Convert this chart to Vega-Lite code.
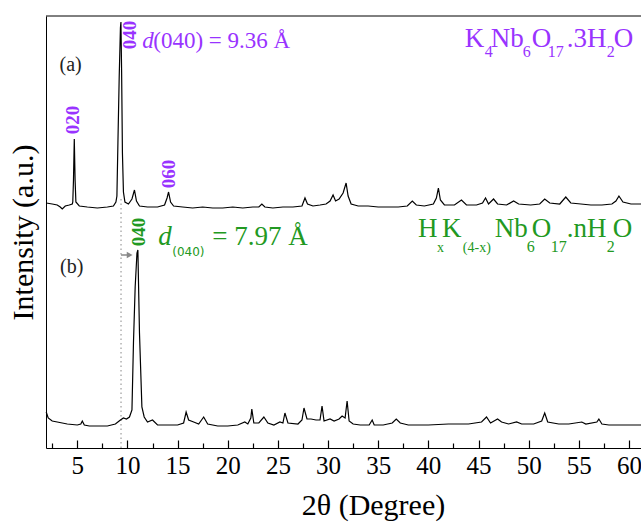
{
  "$schema": "https://vega.github.io/schema/vega-lite/v6.json",
  "width": 595,
  "height": 432,
  "autosize": {"type": "none"},
  "padding": {"left": 46, "top": 16, "right": 0, "bottom": 75},
  "background": "white",
  "config": {"view": {"stroke": null}, "font": "Liberation Serif", "text": {"font": "Liberation Serif"}},
  "datasets": {
    "xrd": [
      {"t": 1.9, "i": 245, "s": "a"}, {"t": 2.5, "i": 244, "s": "a"}, {"t": 3.0, "i": 243, "s": "a"}, {"t": 3.3, "i": 241, "s": "a"}, {"t": 3.5, "i": 239, "s": "a"}, {"t": 3.8, "i": 242, "s": "a"}, {"t": 4.2, "i": 243, "s": "a"}, {"t": 4.5, "i": 244, "s": "a"}, {"t": 4.55, "i": 246, "s": "a"}, {"t": 4.62, "i": 268, "s": "a"}, {"t": 4.7, "i": 309, "s": "a"}, {"t": 4.78, "i": 268, "s": "a"}, {"t": 4.86, "i": 246, "s": "a"}, {"t": 5.2, "i": 242, "s": "a"}, {"t": 6.0, "i": 241, "s": "a"}, {"t": 7.0, "i": 240, "s": "a"}, {"t": 8.0, "i": 241, "s": "a"}, {"t": 8.6, "i": 242, "s": "a"}, {"t": 8.85, "i": 246, "s": "a"}, {"t": 8.95, "i": 252, "s": "a"}, {"t": 9.05, "i": 305, "s": "a"}, {"t": 9.18, "i": 372, "s": "a"}, {"t": 9.3, "i": 420, "s": "a"}, {"t": 9.35, "i": 426, "s": "a"}, {"t": 9.42, "i": 375, "s": "a"}, {"t": 9.5, "i": 295, "s": "a"}, {"t": 9.6, "i": 256, "s": "a"}, {"t": 9.75, "i": 246, "s": "a"}, {"t": 10.1, "i": 244, "s": "a"}, {"t": 10.45, "i": 249, "s": "a"}, {"t": 10.7, "i": 258, "s": "a"}, {"t": 10.9, "i": 247, "s": "a"}, {"t": 11.2, "i": 242, "s": "a"}, {"t": 12.0, "i": 241, "s": "a"}, {"t": 13.0, "i": 241, "s": "a"}, {"t": 13.7, "i": 243, "s": "a"}, {"t": 13.95, "i": 250, "s": "a"}, {"t": 14.1, "i": 256, "s": "a"}, {"t": 14.3, "i": 246, "s": "a"}, {"t": 14.6, "i": 242, "s": "a"}, {"t": 15.5, "i": 241, "s": "a"}, {"t": 16.5, "i": 240, "s": "a"}, {"t": 17.5, "i": 241, "s": "a"}, {"t": 18.5, "i": 240, "s": "a"}, {"t": 19.5, "i": 240, "s": "a"}, {"t": 20.5, "i": 241, "s": "a"}, {"t": 21.5, "i": 240, "s": "a"}, {"t": 22.5, "i": 241, "s": "a"}, {"t": 23.1, "i": 241, "s": "a"}, {"t": 23.4, "i": 244, "s": "a"}, {"t": 23.7, "i": 241, "s": "a"}, {"t": 24.5, "i": 240, "s": "a"}, {"t": 25.5, "i": 241, "s": "a"}, {"t": 26.5, "i": 241, "s": "a"}, {"t": 27.4, "i": 242, "s": "a"}, {"t": 27.7, "i": 250, "s": "a"}, {"t": 27.95, "i": 244, "s": "a"}, {"t": 28.5, "i": 242, "s": "a"}, {"t": 29.2, "i": 243, "s": "a"}, {"t": 29.8, "i": 244, "s": "a"}, {"t": 30.2, "i": 247, "s": "a"}, {"t": 30.5, "i": 253, "s": "a"}, {"t": 30.75, "i": 247, "s": "a"}, {"t": 31.1, "i": 249, "s": "a"}, {"t": 31.5, "i": 255, "s": "a"}, {"t": 31.8, "i": 265, "s": "a"}, {"t": 32.0, "i": 252, "s": "a"}, {"t": 32.3, "i": 244, "s": "a"}, {"t": 33.0, "i": 242, "s": "a"}, {"t": 34.0, "i": 242, "s": "a"}, {"t": 35.0, "i": 241, "s": "a"}, {"t": 36.0, "i": 241, "s": "a"}, {"t": 37.0, "i": 241, "s": "a"}, {"t": 37.9, "i": 242, "s": "a"}, {"t": 38.4, "i": 247, "s": "a"}, {"t": 38.8, "i": 243, "s": "a"}, {"t": 39.6, "i": 242, "s": "a"}, {"t": 40.5, "i": 244, "s": "a"}, {"t": 40.8, "i": 250, "s": "a"}, {"t": 41.0, "i": 260, "s": "a"}, {"t": 41.2, "i": 248, "s": "a"}, {"t": 41.6, "i": 243, "s": "a"}, {"t": 42.6, "i": 243, "s": "a"}, {"t": 43.3, "i": 248, "s": "a"}, {"t": 43.8, "i": 243, "s": "a"}, {"t": 44.8, "i": 243, "s": "a"}, {"t": 45.4, "i": 245, "s": "a"}, {"t": 45.7, "i": 250, "s": "a"}, {"t": 46.0, "i": 244, "s": "a"}, {"t": 46.5, "i": 249, "s": "a"}, {"t": 46.9, "i": 244, "s": "a"}, {"t": 47.8, "i": 243, "s": "a"}, {"t": 48.5, "i": 247, "s": "a"}, {"t": 49.0, "i": 244, "s": "a"}, {"t": 50.2, "i": 243, "s": "a"}, {"t": 51.1, "i": 244, "s": "a"}, {"t": 51.6, "i": 249, "s": "a"}, {"t": 52.1, "i": 245, "s": "a"}, {"t": 53.1, "i": 244, "s": "a"}, {"t": 53.7, "i": 251, "s": "a"}, {"t": 54.2, "i": 245, "s": "a"}, {"t": 55.2, "i": 244, "s": "a"}, {"t": 56.2, "i": 243, "s": "a"}, {"t": 57.3, "i": 243, "s": "a"}, {"t": 58.3, "i": 244, "s": "a"}, {"t": 58.7, "i": 247, "s": "a"}, {"t": 59.0, "i": 252, "s": "a"}, {"t": 59.4, "i": 246, "s": "a"}, {"t": 60.2, "i": 244, "s": "a"}, {"t": 61.2, "i": 244, "s": "a"},
      {"t": 1.9, "i": 36, "s": "b"}, {"t": 2.1, "i": 30, "s": "b"}, {"t": 2.5, "i": 27, "s": "b"}, {"t": 3.0, "i": 26, "s": "b"}, {"t": 3.5, "i": 25, "s": "b"}, {"t": 4.0, "i": 24, "s": "b"}, {"t": 5.0, "i": 23, "s": "b"}, {"t": 5.35, "i": 24, "s": "b"}, {"t": 5.5, "i": 27, "s": "b"}, {"t": 5.7, "i": 23, "s": "b"}, {"t": 6.2, "i": 22, "s": "b"}, {"t": 7.0, "i": 22, "s": "b"}, {"t": 8.0, "i": 22, "s": "b"}, {"t": 8.8, "i": 24, "s": "b"}, {"t": 9.3, "i": 28, "s": "b"}, {"t": 9.6, "i": 30, "s": "b"}, {"t": 9.9, "i": 29, "s": "b"}, {"t": 10.2, "i": 31, "s": "b"}, {"t": 10.45, "i": 38, "s": "b"}, {"t": 10.6, "i": 105, "s": "b"}, {"t": 10.77, "i": 161, "s": "b"}, {"t": 10.95, "i": 195, "s": "b"}, {"t": 11.04, "i": 198, "s": "b"}, {"t": 11.2, "i": 115, "s": "b"}, {"t": 11.44, "i": 41, "s": "b"}, {"t": 11.67, "i": 31, "s": "b"}, {"t": 12.0, "i": 26, "s": "b"}, {"t": 12.5, "i": 28, "s": "b"}, {"t": 13.0, "i": 23, "s": "b"}, {"t": 14.0, "i": 23, "s": "b"}, {"t": 15.0, "i": 23, "s": "b"}, {"t": 15.6, "i": 25, "s": "b"}, {"t": 15.85, "i": 36, "s": "b"}, {"t": 16.1, "i": 28, "s": "b"}, {"t": 16.6, "i": 26, "s": "b"}, {"t": 17.1, "i": 24, "s": "b"}, {"t": 17.6, "i": 31, "s": "b"}, {"t": 18.0, "i": 24, "s": "b"}, {"t": 19.0, "i": 22, "s": "b"}, {"t": 20.0, "i": 22, "s": "b"}, {"t": 21.0, "i": 23, "s": "b"}, {"t": 21.7, "i": 26, "s": "b"}, {"t": 22.0, "i": 24, "s": "b"}, {"t": 22.3, "i": 30, "s": "b"}, {"t": 22.4, "i": 39, "s": "b"}, {"t": 22.6, "i": 25, "s": "b"}, {"t": 23.1, "i": 25, "s": "b"}, {"t": 23.6, "i": 31, "s": "b"}, {"t": 24.0, "i": 25, "s": "b"}, {"t": 24.6, "i": 23, "s": "b"}, {"t": 25.2, "i": 26, "s": "b"}, {"t": 25.5, "i": 25, "s": "b"}, {"t": 25.7, "i": 35, "s": "b"}, {"t": 26.0, "i": 25, "s": "b"}, {"t": 27.0, "i": 24, "s": "b"}, {"t": 27.4, "i": 28, "s": "b"}, {"t": 27.6, "i": 40, "s": "b"}, {"t": 27.9, "i": 29, "s": "b"}, {"t": 28.3, "i": 29, "s": "b"}, {"t": 28.8, "i": 28, "s": "b"}, {"t": 29.2, "i": 28, "s": "b"}, {"t": 29.4, "i": 42, "s": "b"}, {"t": 29.6, "i": 27, "s": "b"}, {"t": 30.2, "i": 29, "s": "b"}, {"t": 30.6, "i": 27, "s": "b"}, {"t": 31.1, "i": 29, "s": "b"}, {"t": 31.4, "i": 32, "s": "b"}, {"t": 31.7, "i": 30, "s": "b"}, {"t": 31.9, "i": 47, "s": "b"}, {"t": 32.1, "i": 27, "s": "b"}, {"t": 32.5, "i": 24, "s": "b"}, {"t": 33.2, "i": 23, "s": "b"}, {"t": 34.1, "i": 23, "s": "b"}, {"t": 34.4, "i": 28, "s": "b"}, {"t": 34.6, "i": 23, "s": "b"}, {"t": 35.5, "i": 23, "s": "b"}, {"t": 36.4, "i": 25, "s": "b"}, {"t": 36.8, "i": 29, "s": "b"}, {"t": 37.2, "i": 25, "s": "b"}, {"t": 38.0, "i": 23, "s": "b"}, {"t": 40.0, "i": 23, "s": "b"}, {"t": 42.0, "i": 24, "s": "b"}, {"t": 44.0, "i": 24, "s": "b"}, {"t": 45.3, "i": 26, "s": "b"}, {"t": 45.8, "i": 31, "s": "b"}, {"t": 46.2, "i": 25, "s": "b"}, {"t": 46.9, "i": 29, "s": "b"}, {"t": 47.3, "i": 26, "s": "b"}, {"t": 48.0, "i": 24, "s": "b"}, {"t": 48.8, "i": 26, "s": "b"}, {"t": 49.3, "i": 24, "s": "b"}, {"t": 50.5, "i": 24, "s": "b"}, {"t": 51.3, "i": 27, "s": "b"}, {"t": 51.6, "i": 35, "s": "b"}, {"t": 51.9, "i": 26, "s": "b"}, {"t": 53.0, "i": 24, "s": "b"}, {"t": 54.0, "i": 24, "s": "b"}, {"t": 55.3, "i": 26, "s": "b"}, {"t": 55.7, "i": 24, "s": "b"}, {"t": 56.8, "i": 26, "s": "b"}, {"t": 57.0, "i": 29, "s": "b"}, {"t": 57.3, "i": 24, "s": "b"}, {"t": 58.0, "i": 23, "s": "b"}, {"t": 60.0, "i": 23, "s": "b"}, {"t": 61.2, "i": 23, "s": "b"}
    ],
    "hkl": [
      {"t": 4.55, "i": 328, "txt": "020", "s": "a"},
      {"t": 10.23, "i": 413, "txt": "040", "s": "a"},
      {"t": 14.11, "i": 274, "txt": "060", "s": "a"},
      {"t": 11.17, "i": 216, "txt": "040", "s": "b"}
    ],
    "panel": [
      {"t": 4.33, "i": 383, "txt": "(a)"},
      {"t": 4.45, "i": 181, "txt": "(b)"}
    ],
    "words": [
      {"t": 43.64, "i": 401, "txt": "K", "r": "f", "s": "a"},
      {"t": 45.63, "i": 391, "txt": "4", "r": "fs", "s": "a"},
      {"t": 46.23, "i": 401, "txt": "Nb", "r": "f", "s": "a"},
      {"t": 49.42, "i": 391, "txt": "6", "r": "fs", "s": "a"},
      {"t": 50.31, "i": 401, "txt": "O", "r": "f", "s": "a"},
      {"t": 51.91, "i": 391, "txt": "17", "r": "fs", "s": "a"},
      {"t": 53.8, "i": 401, "txt": ".3H", "r": "f", "s": "a"},
      {"t": 57.78, "i": 391, "txt": "2", "r": "fs", "s": "a"},
      {"t": 58.48, "i": 401, "txt": "O", "r": "f", "s": "a"},
      {"t": 12.57, "i": 400, "txt": "(040) = 9.36 Å", "r": "da", "s": "a"},
      {"t": 38.96, "i": 211, "txt": "H", "r": "f", "s": "b"},
      {"t": 40.85, "i": 196, "txt": "x", "r": "fx", "s": "b"},
      {"t": 41.35, "i": 211, "txt": "K", "r": "f", "s": "b"},
      {"t": 43.44, "i": 196, "txt": "(4-x)", "r": "fx", "s": "b"},
      {"t": 46.63, "i": 211, "txt": "Nb", "r": "f", "s": "b"},
      {"t": 49.81, "i": 196, "txt": "6", "r": "fs", "s": "b"},
      {"t": 50.31, "i": 211, "txt": "O", "r": "f", "s": "b"},
      {"t": 52.2, "i": 196, "txt": "17", "r": "fs", "s": "b"},
      {"t": 53.8, "i": 211, "txt": ".nH", "r": "f", "s": "b"},
      {"t": 57.78, "i": 196, "txt": "2", "r": "fs", "s": "b"},
      {"t": 58.38, "i": 211, "txt": "O", "r": "f", "s": "b"},
      {"t": 18.46, "i": 203, "txt": "= 7.97 Å", "r": "f", "s": "b"},
      {"t": 11.47, "i": 400, "txt": "d", "r": "ida", "s": "a"},
      {"t": 13.07, "i": 203, "txt": "d", "r": "idb", "s": "b"},
      {"t": 14.47, "i": 192, "txt": "(040)", "r": "sans", "s": "b"}
    ],
    "guide": [{"t": 9.36, "i": 0, "i2": 252}],
    "arrow": [{"t": 9.36, "t2": 10.2, "i": 193}],
    "head": [{"t": 10.22, "i": 193}],
    "frame": [{"t": 1.88, "t2": 61.2, "i": 432}]
  },
  "encoding": {
    "x": {
      "field": "t", "type": "quantitative",
      "scale": {"domain": [1.88, 61.2], "nice": false, "zero": false},
      "axis": {
        "values": [2.5, 5, 7.5, 10, 12.5, 15, 17.5, 20, 22.5, 25, 27.5, 30, 32.5, 35, 37.5, 40, 42.5, 45, 47.5, 50, 52.5, 55, 57.5, 60],
        "labelExpr": "datum.value % 5 === 0 ? datum.label : ''",
        "tickSize": {"condition": {"test": "datum.value % 5 === 0", "value": -8}, "value": -5},
        "tickColor": "black", "tickWidth": 1.2, "domainColor": "black", "domainWidth": 1,
        "grid": false, "labelFont": "Liberation Serif", "labelFontSize": 25, "labelColor": "black",
        "labelPadding": 13, "labelFlush": false, "labelOverlap": false,
        "title": "2θ (Degree)", "titleFont": "Liberation Serif", "titleFontSize": 30, "titleFontWeight": "normal",
        "titleColor": "black", "titleX": 327, "titleY": 66, "titleBaseline": "alphabetic", "titleAlign": "center"
      }
    },
    "y": {
      "field": "i", "type": "quantitative",
      "scale": {"domain": [0, 432], "nice": false, "zero": false},
      "axis": {
        "ticks": false, "labels": false, "grid": false, "domainColor": "black", "domainWidth": 1,
        "title": "Intensity (a.u.)", "titleFont": "Liberation Serif", "titleFontSize": 30, "titleFontWeight": "normal",
        "titleColor": "black", "titlePadding": 8
      }
    },
    "color": {"field": "s", "type": "nominal", "scale": {"domain": ["a", "b"], "range": ["#9933ff", "#229922"]}, "legend": null}
  },
  "layer": [
    {
      "data": {"name": "frame"},
      "mark": {"type": "rule", "strokeWidth": 1},
      "encoding": {"x2": {"field": "t2"}, "color": {"value": "black"}}
    },
    {
      "data": {"name": "guide"},
      "mark": {"type": "rule", "strokeWidth": 1, "strokeDash": [1.5, 3]},
      "encoding": {"y2": {"field": "i2"}, "color": {"value": "#888888"}}
    },
    {
      "data": {"name": "xrd"},
      "mark": {"type": "line", "strokeWidth": 1.2},
      "encoding": {"detail": {"field": "s"}, "color": {"value": "black"}}
    },
    {
      "data": {"name": "arrow"},
      "mark": {"type": "rule", "strokeWidth": 1.5},
      "encoding": {"x2": {"field": "t2"}, "color": {"value": "#888888"}}
    },
    {
      "data": {"name": "head"},
      "mark": {"type": "point", "shape": "triangle-right", "filled": true, "size": 45, "opacity": 1},
      "encoding": {"color": {"value": "#888888"}}
    },
    {
      "data": {"name": "hkl"},
      "mark": {"type": "text", "angle": 270, "align": "center", "baseline": "middle", "font": "Liberation Serif", "fontWeight": "bold", "fontSize": 19},
      "encoding": {"text": {"field": "txt"}}
    },
    {
      "data": {"name": "panel"},
      "mark": {"type": "text", "align": "center", "baseline": "middle", "font": "Liberation Serif", "fontSize": 20},
      "encoding": {"text": {"field": "txt"}, "color": {"value": "#222222"}}
    },
    {
      "data": {"name": "words"},
      "transform": [{"filter": "datum.r === 'f'"}],
      "mark": {"type": "text", "align": "left", "baseline": "alphabetic", "font": "Liberation Serif", "fontSize": 27},
      "encoding": {"text": {"field": "txt"}}
    },
    {
      "data": {"name": "words"},
      "transform": [{"filter": "datum.r === 'fs'"}],
      "mark": {"type": "text", "align": "left", "baseline": "alphabetic", "font": "Liberation Serif", "fontSize": 16},
      "encoding": {"text": {"field": "txt"}}
    },
    {
      "data": {"name": "words"},
      "transform": [{"filter": "datum.r === 'fx'"}],
      "mark": {"type": "text", "align": "left", "baseline": "alphabetic", "font": "Liberation Serif", "fontSize": 14},
      "encoding": {"text": {"field": "txt"}}
    },
    {
      "data": {"name": "words"},
      "transform": [{"filter": "datum.r === 'da'"}],
      "mark": {"type": "text", "align": "left", "baseline": "alphabetic", "font": "Liberation Serif", "fontSize": 23},
      "encoding": {"text": {"field": "txt"}}
    },
    {
      "data": {"name": "words"},
      "transform": [{"filter": "datum.r === 'ida'"}],
      "mark": {"type": "text", "align": "left", "baseline": "alphabetic", "font": "Liberation Serif", "fontStyle": "italic", "fontSize": 23},
      "encoding": {"text": {"field": "txt"}}
    },
    {
      "data": {"name": "words"},
      "transform": [{"filter": "datum.r === 'idb'"}],
      "mark": {"type": "text", "align": "left", "baseline": "alphabetic", "font": "Liberation Serif", "fontStyle": "italic", "fontSize": 27},
      "encoding": {"text": {"field": "txt"}}
    },
    {
      "data": {"name": "words"},
      "transform": [{"filter": "datum.r === 'sans'"}],
      "mark": {"type": "text", "align": "left", "baseline": "alphabetic", "font": "DejaVu Sans", "fontSize": 12},
      "encoding": {"text": {"field": "txt"}}
    }
  ]
}
